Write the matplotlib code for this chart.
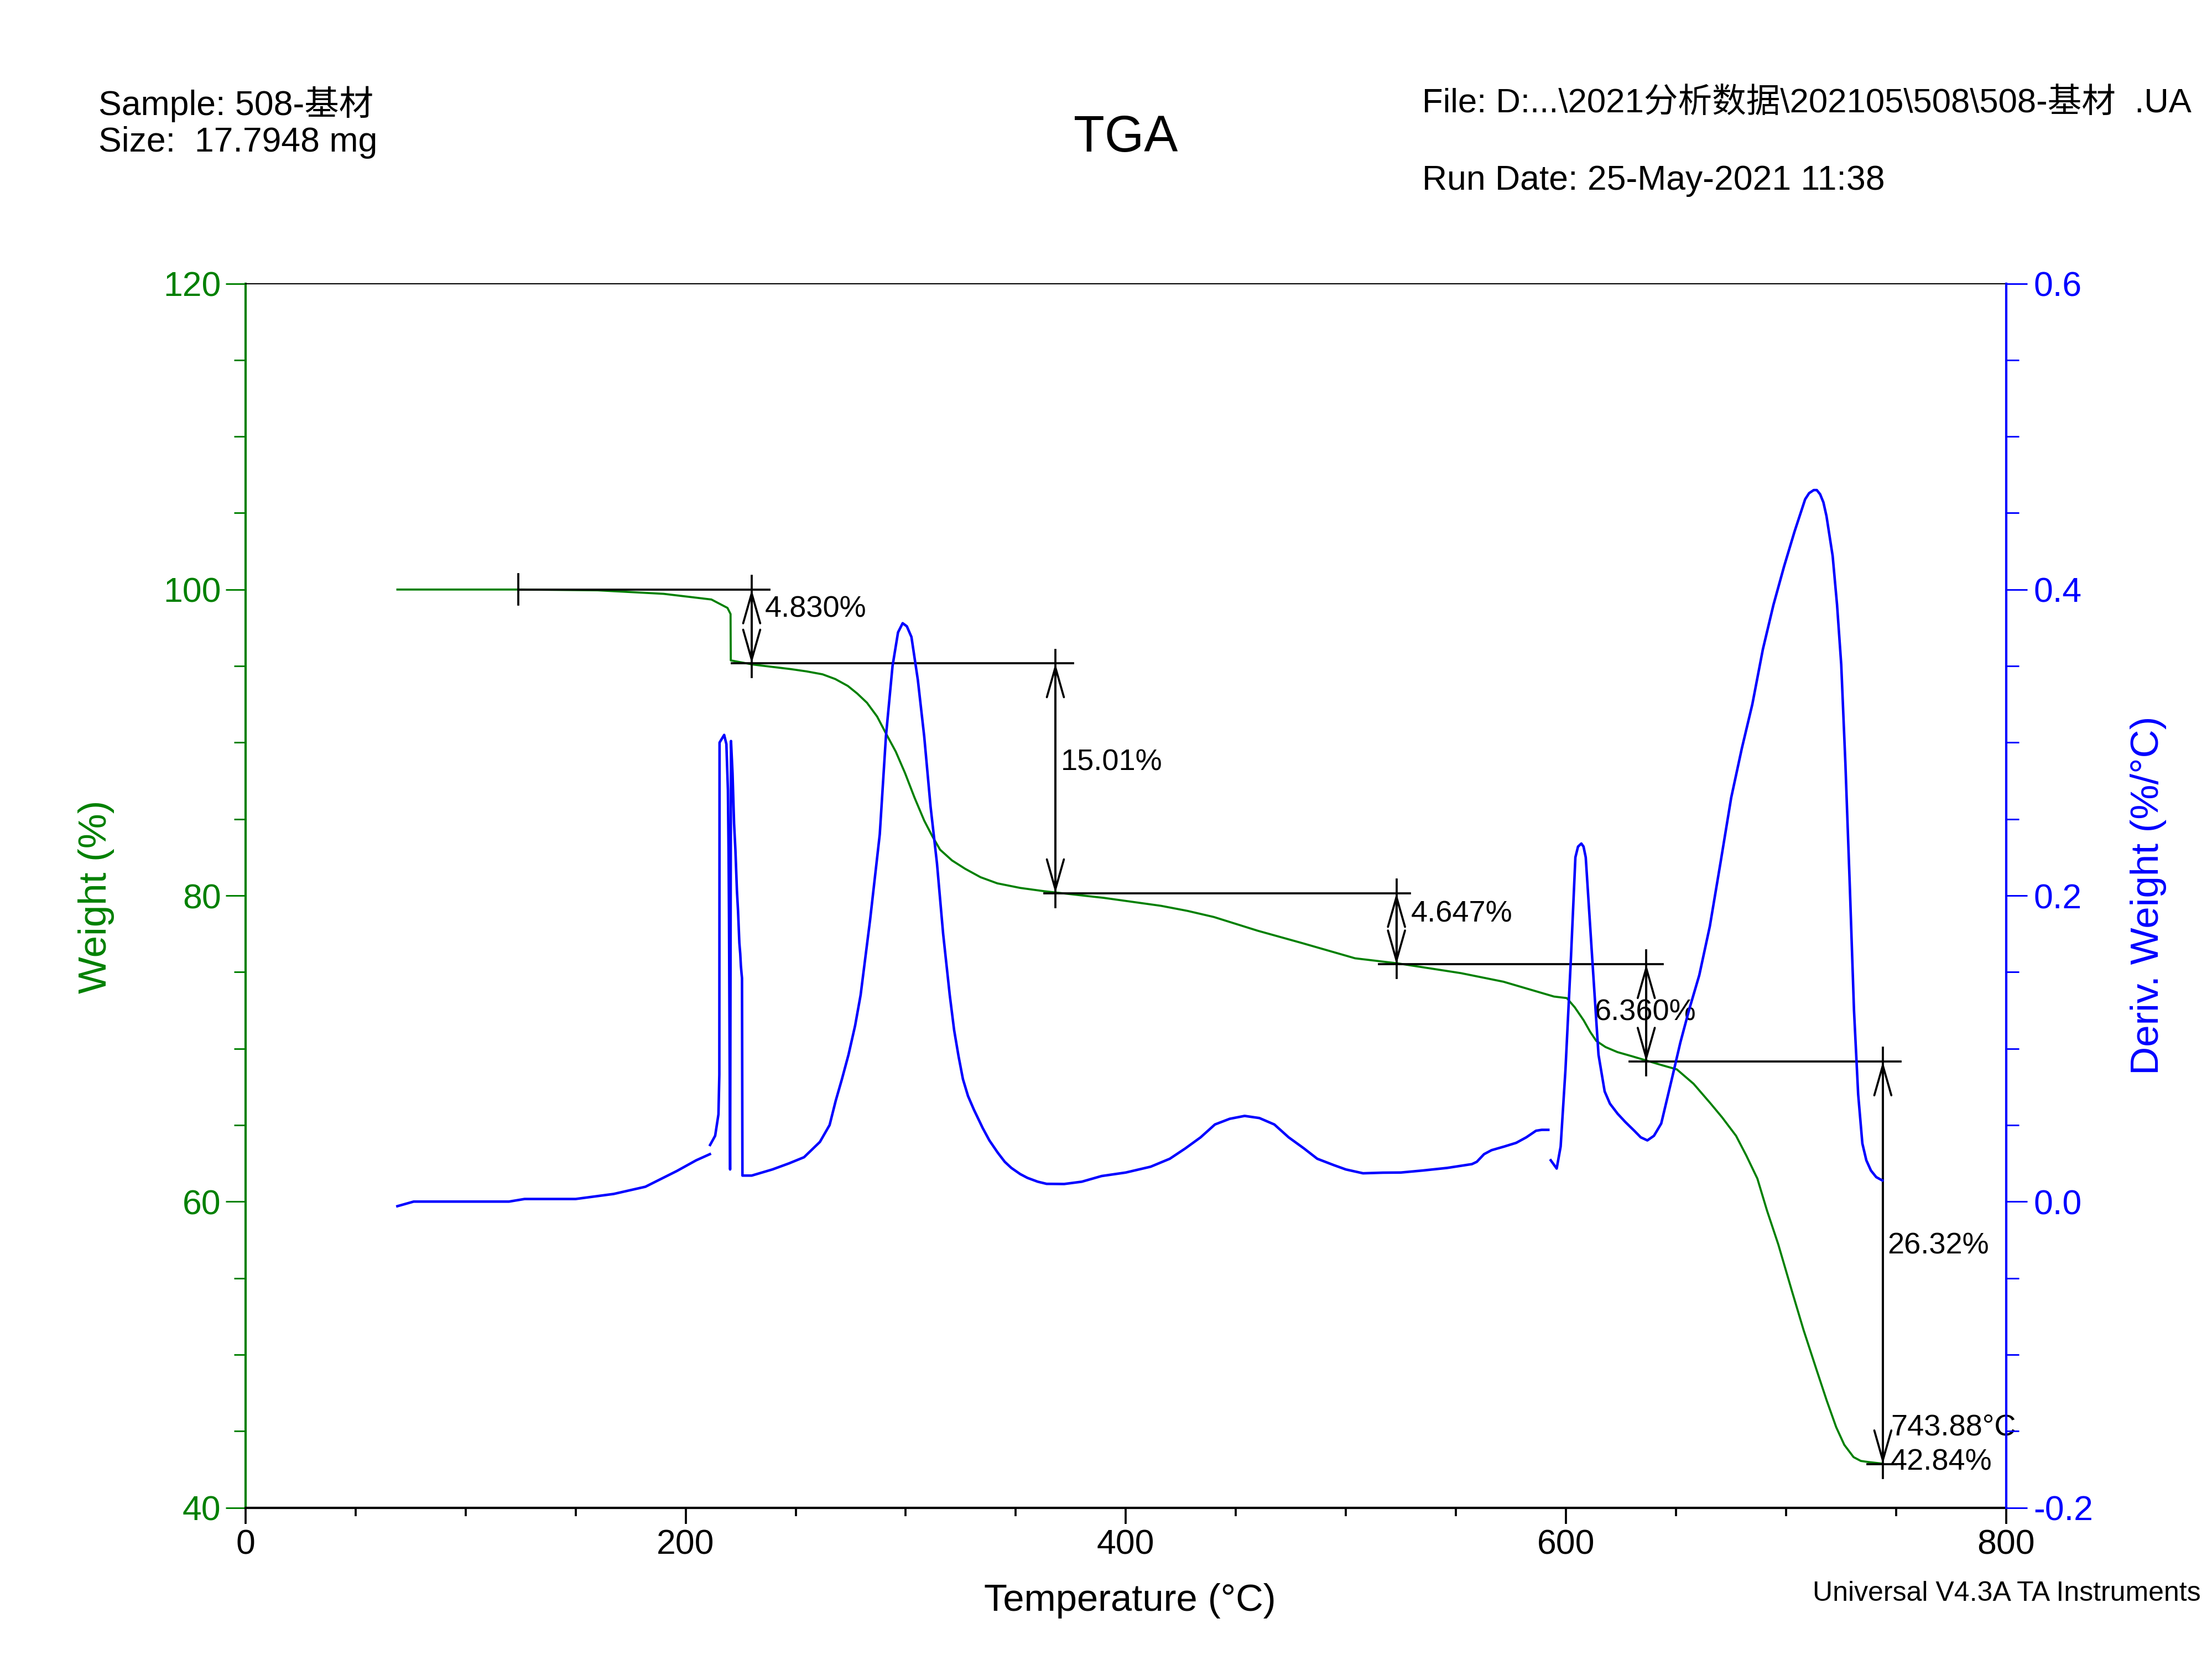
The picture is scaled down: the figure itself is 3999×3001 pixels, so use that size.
import numpy as np
import matplotlib.pyplot as plt
from matplotlib.ticker import MultipleLocator, FormatStrFormatter

plt.rcParams['font.family'] = ['Liberation Sans', 'Noto Sans CJK SC']
plt.rcParams['axes.unicode_minus'] = False

GREEN = '#008000'
BLUE = '#0000FF'

# weight curve (%)
temp_w = [69, 126, 160, 190, 211.7, 219, 220.4, 220.5, 230.5, 247.8, 255, 262.2, 268,
          273.7, 278, 282.4, 287, 291, 295.5, 299.7, 304, 308.4, 312, 315.6, 321, 327,
          334, 341.6, 352, 363.2, 390, 416, 428, 440, 460, 480, 504.2, 523.5, 552.3,
          571.6, 594.6, 600.4, 604, 608, 611, 613.8, 618, 623.4, 630, 637, 644, 650.4,
          658, 665.8, 671, 677.3, 682, 687, 691.4, 696.5, 702.6, 708, 713.9, 718.5,
          722.8, 726.5, 730.7, 734, 737.4, 744]
weight = [100, 100, 99.95, 99.72, 99.35, 98.8, 98.4, 95.37, 95.1, 94.8, 94.65, 94.46, 94.15,
          93.7, 93.2, 92.6, 91.7, 90.6, 89.4, 88.0, 86.4, 84.9, 83.9, 83.0, 82.3, 81.75,
          81.2, 80.8, 80.5, 80.28, 79.85, 79.33, 79.0, 78.6, 77.7, 76.9, 75.9, 75.57, 74.93,
          74.37, 73.4, 73.3, 72.7, 71.86, 71.1, 70.5, 70.1, 69.77, 69.5, 69.2, 68.9, 68.64,
          67.7, 66.4, 65.5, 64.3, 63.0, 61.5, 59.4, 57.2, 54.2, 51.6, 49.0, 47.0,
          45.26, 44.1, 43.3, 43.05, 42.98, 42.87]

# derivative weight (%/C), trace comes in three pieces
temp_d1 = [69, 76.4, 95, 119.7, 126.8, 150, 167.3, 181.7, 196, 204.8, 211]
deriv1 = [-0.003, 0.0, 0.0, 0.0, 0.0017, 0.0017, 0.005, 0.0097, 0.020, 0.027, 0.031]

temp_d2 = [211.1, 213.4, 214.9, 215.3, 215.4, 217.5, 218.5, 219.2, 219.5, 219.7, 220.2,
           220.6, 221.3, 222, 222.6, 223.3, 223.8, 224.4, 224.8, 225.1, 225.4, 225.6,
           225.8, 230, 239.4, 247, 253.8, 261, 265.4, 268.2, 271, 274, 277, 279.5, 283.8,
           288.2, 291, 294, 296.5, 298.6, 300.5, 302.6, 305.5, 308.4, 311.3, 314.2, 317,
           320, 322, 324, 326, 328.3, 331, 335, 338, 341.8, 345, 348, 352, 355.3, 360,
           364, 372, 380, 389, 400, 411.3, 420, 427, 434, 440.5, 447.2, 454, 460.7, 467.5,
           474, 481, 487, 494.4, 500, 507.8, 516.8, 525, 534.8, 546, 557.3, 559.5, 562.8,
           566.2, 572, 577.4, 582, 586.4, 589, 592]
deriv2 = [0.037, 0.043, 0.057, 0.083, 0.300, 0.305, 0.299, 0.269, 0.228, 0.185, 0.021,
          0.301, 0.280, 0.247, 0.230, 0.203, 0.190, 0.169, 0.162, 0.154, 0.149, 0.146,
          0.017, 0.017, 0.021, 0.025, 0.029, 0.039, 0.050, 0.066, 0.080, 0.096, 0.115,
          0.135, 0.184, 0.240, 0.304, 0.350, 0.372, 0.378, 0.376, 0.369, 0.341, 0.304,
          0.258, 0.221, 0.175, 0.135, 0.112, 0.095, 0.080, 0.069, 0.060, 0.048, 0.040,
          0.032, 0.026, 0.022, 0.018, 0.0155, 0.013, 0.0116, 0.0115, 0.013, 0.0167, 0.019,
          0.0228, 0.028, 0.0347, 0.042, 0.0504, 0.0541, 0.056, 0.0546, 0.0504, 0.042,
          0.0347, 0.028, 0.0239, 0.021, 0.0185, 0.0189, 0.019, 0.0203, 0.022, 0.0245,
          0.026, 0.031, 0.0336, 0.036, 0.0384, 0.042, 0.0463, 0.0469, 0.0469]

temp_d3 = [593.1, 595.8, 597.6, 599.8, 602.3, 604.3, 605.5, 607, 608, 609, 611.9, 614.8,
           617.6, 620, 623.5, 627, 631.2, 634, 637, 640, 643.3, 648.1, 652, 655.9, 660.6,
           665.4, 670.3, 675.1, 679.9, 684.7, 689.5, 694.3, 699.1, 703.9, 708.7, 710.5,
           712.6, 714, 715.5, 717, 718.4, 721.2, 723.2, 725.1, 727, 729, 730.9, 732.8,
           734.7, 736.5, 738.6, 741, 743.8]
deriv3 = [0.027, 0.0216, 0.036, 0.0865, 0.160, 0.225, 0.232, 0.234, 0.232, 0.225, 0.160,
          0.096, 0.072, 0.064, 0.0574, 0.052, 0.0461, 0.042, 0.040, 0.043, 0.051, 0.080,
          0.104, 0.125, 0.148, 0.180, 0.222, 0.264, 0.296, 0.325, 0.361, 0.390, 0.415,
          0.438, 0.459, 0.463, 0.465, 0.465, 0.4623, 0.457, 0.448, 0.422, 0.390, 0.351,
          0.286, 0.206, 0.125, 0.070, 0.038, 0.027, 0.0203, 0.016, 0.0138]

# step analysis
step_temp = [230.0, 368.0, 523.0, 636.5, 744.0]
step_top = [100.0, 95.17, 80.16, 75.51, 69.15]
step_bot = [95.17, 80.16, 75.51, 69.15, 42.84]
step_text = ['4.830%', '15.01%', '4.647%', '6.360%', '26.32%']
text_temp = [236, 370.5, 529.5, 613, 746]
text_weight = [98.7, 88.7, 78.8, 72.35, 57.1]

# horizontal baselines of the step analysis
base_level = [100.0, 95.17, 80.16, 75.51, 69.15, 42.84]
base_from = [124, 221, 363, 515, 629, 737]
base_to = [238, 376, 529, 644, 752, 750]

fig = plt.figure(figsize=(3999/300, 3001/300), dpi=300)
ax = fig.add_axes([0.1110, 0.0918, 0.7959, 0.7374])
ax2 = ax.twinx()

ax.plot(temp_w, weight, color=GREEN, lw=0.9)
ax2.plot(temp_d1, deriv1, color=BLUE, lw=1.1)
ax2.plot(temp_d2, deriv2, color=BLUE, lw=1.1)
ax2.plot(temp_d3, deriv3, color=BLUE, lw=1.1)

# step lines
for lev, a, b in zip(base_level, base_from, base_to):
    ax.plot([a, b], [lev, lev], color='black', lw=0.9)
ax.plot([base_from[0], base_from[0]], [101, 99], color='black', lw=0.9)
for t, top, bot, txt, tt, tw in zip(step_temp, step_top, step_bot, step_text, text_temp, text_weight):
    ax.plot([t, t], [top + 0.9, bot - 0.9], color='black', lw=0.9)
    ax.annotate('', xy=(t, bot), xytext=(t, top),
                arrowprops=dict(arrowstyle='<->,head_length=1.3,head_width=0.37',
                                mutation_scale=10, shrinkA=0, shrinkB=0,
                                color='black', lw=0.9))
    ax.text(tt, tw, txt, fontsize=13, ha='left', va='center')
ax.text(747.5, 45.25, '743.88°C', fontsize=13, ha='left', va='center')
ax.text(747.5, 42.95, '42.84%', fontsize=13, ha='left', va='center')

ax.set_xlim(0, 800)
ax.set_ylim(40, 120)
ax2.set_ylim(-0.2, 0.6)

ax.xaxis.set_major_locator(MultipleLocator(200))
ax.xaxis.set_minor_locator(MultipleLocator(50))
ax.yaxis.set_major_locator(MultipleLocator(20))
ax.yaxis.set_minor_locator(MultipleLocator(5))
ax2.yaxis.set_major_locator(MultipleLocator(0.2))
ax2.yaxis.set_minor_locator(MultipleLocator(0.05))
ax2.yaxis.set_major_formatter(FormatStrFormatter('%.1f'))

ax.tick_params(axis='x', which='major', direction='out', length=7, width=0.9,
               labelsize=15, pad=2, colors='black')
ax.tick_params(axis='x', which='minor', direction='out', length=3.7, width=0.9)
ax.tick_params(axis='y', which='major', direction='out', length=8.6, width=0.7,
               labelsize=15, pad=2, colors=GREEN)
ax.tick_params(axis='y', which='minor', direction='out', length=5, width=0.7, colors=GREEN)
ax2.tick_params(axis='y', which='major', direction='out', length=9, width=0.7,
                labelsize=15, pad=3, colors=BLUE)
ax2.tick_params(axis='y', which='minor', direction='out', length=5.5, width=0.7, colors=BLUE)

ax.spines['left'].set_color(GREEN)
ax.spines['left'].set_linewidth(1.0)
ax.spines['bottom'].set_linewidth(1.0)
ax.spines['top'].set_linewidth(0.5)
ax.spines['right'].set_visible(False)
ax2.spines['left'].set_visible(False)
ax2.spines['top'].set_visible(False)
ax2.spines['bottom'].set_visible(False)
ax2.spines['right'].set_color(BLUE)
ax2.spines['right'].set_linewidth(1.0)

fig.text(0.5108, 0.0357, 'Temperature (°C)', fontsize=16.5, ha='center', va='center')
fig.text(0.0434, 0.4596, 'Weight (%)', fontsize=17, color=GREEN, rotation=90,
         ha='center', va='center')
fig.text(0.9713, 0.4605, 'Deriv. Weight (%/°C)', fontsize=17, color=BLUE, rotation=90,
         ha='center', va='center')

fig.text(0.0446, 0.9371, 'Sample: 508-基材', fontsize=15, ha='left', va='center')
fig.text(0.0446, 0.9142, 'Size:  17.7948 mg', fontsize=15, ha='left', va='center')
fig.text(0.5089, 0.9167, 'TGA', fontsize=22, ha='center', va='center')
fig.text(0.6429, 0.9371, r'File: D:...\2021分析数据\202105\508\508-基材  .UA', fontsize=14.8,
         ha='left', va='center')
fig.text(0.6429, 0.8912, 'Run Date: 25-May-2021 11:38', fontsize=15, ha='left', va='center')
fig.text(0.9949, 0.0399, 'Universal V4.3A TA Instruments', fontsize=12, ha='right', va='center')

plt.savefig('out.png', dpi=300)
